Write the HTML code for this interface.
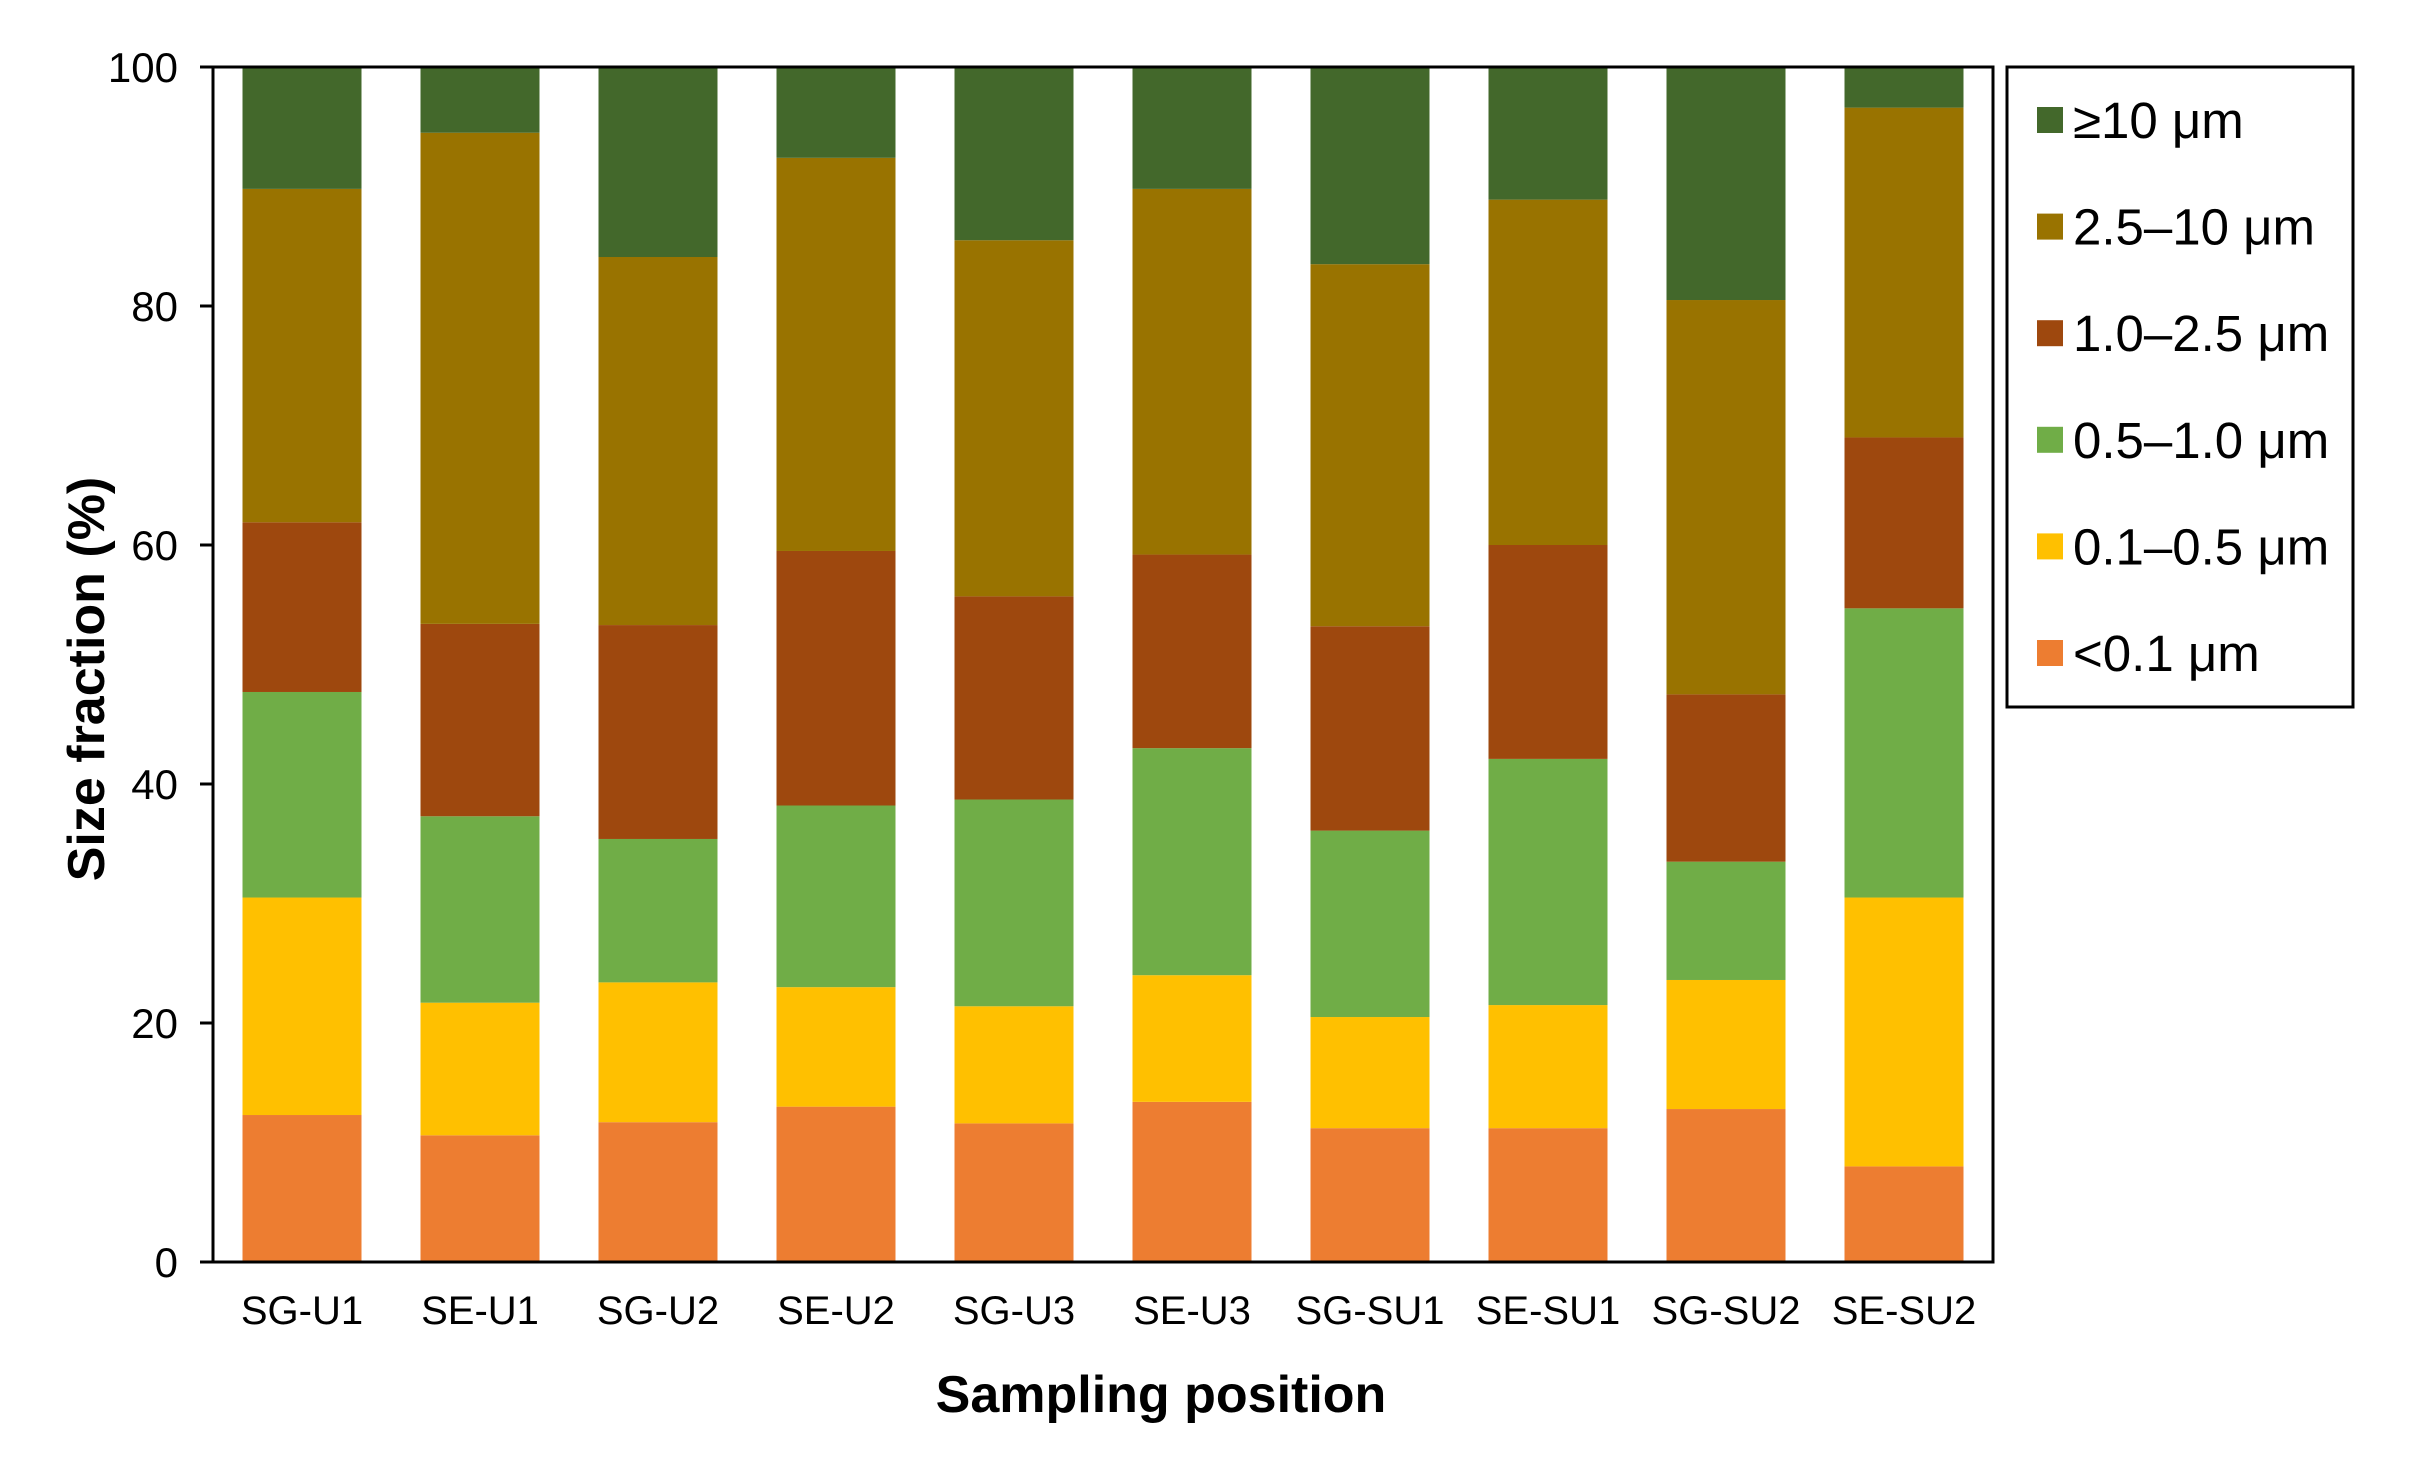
<!DOCTYPE html>
<html><head><meta charset="utf-8"><style>
html,body{margin:0;padding:0;background:#fff;}
svg{display:block;font-family:"Liberation Sans",Arial,sans-serif;}
</style></head><body>
<svg id="chart" width="2417" height="1467" viewBox="0 0 2417 1467" xmlns="http://www.w3.org/2000/svg">
<g id="bars"></g>
<g id="axes"></g>
<g id="legend"></g>
<text x="1161" y="1412" text-anchor="middle" font-size="52" font-weight="bold">Sampling position</text>
<text transform="translate(104,679) rotate(-90)" text-anchor="middle" font-size="52" font-weight="bold">Size fraction (%)</text>
</svg>
<script>
const categories = ["SG-U1","SE-U1","SG-U2","SE-U2","SG-U3","SE-U3","SG-SU1","SE-SU1","SG-SU2","SE-SU2"];
const seriesNames = ["<0.1 μm","0.1–0.5 μm","0.5–1.0 μm","1.0–2.5 μm","2.5–10 μm","≥10 μm"];
const seriesColors = ["#ED7D31","#FFC000","#70AD47","#9E480E","#997300","#43682B"];
const sLt01 = [12.3,10.6,11.7,13.0,11.6,13.4,11.2,11.2,12.8,8.0];
const s01to05 = [18.2,11.1,11.7,10.0,9.8,10.6,9.3,10.3,10.8,22.5];
const s05to10 = [17.2,15.6,12.0,15.2,17.3,19.0,15.6,20.6,9.9,24.2];
const s10to25 = [14.2,16.1,17.9,21.3,17.0,16.2,17.1,17.9,14.0,14.3];
const s25to10 = [27.9,41.1,30.8,32.9,29.8,30.6,30.3,28.9,33.0,27.6];
const sGe10 = [10.2,5.5,15.9,7.6,14.5,10.2,16.5,11.1,19.5,3.4];
const yTicks = [0,20,40,60,80,100];

const series = [sLt01,s01to05,s05to10,s10to25,s25to10,sGe10];
const NS = "http://www.w3.org/2000/svg";
const L = 213, R = 1993, T = 67, B = 1262;
const band = (R - L) / categories.length, barW = 119;
const y = v => B - (v / 100) * (B - T);
const xc = i => L + band * (i + 0.5);
function mk(tag, attrs, parent) {
  const e = document.createElementNS(NS, tag);
  for (const k in attrs) e.setAttribute(k, attrs[k]);
  parent.appendChild(e);
  return e;
}
const gb = document.getElementById('bars');
categories.forEach((c, i) => {
  let cum = 0;
  series.forEach((s, j) => {
    const v = s[i];
    const r = mk('rect', {x: xc(i) - barW / 2, y: y(cum + v), width: barW, height: y(cum) - y(cum + v), fill: seriesColors[j]}, gb);
    
    
    cum += v;
  });
});
const ga = document.getElementById('axes');
const frame = mk('rect', {x: L, y: T, width: R - L, height: B - T, fill: 'none', stroke: '#000', 'stroke-width': 3}, ga);


yTicks.forEach(t => {
  const tk = mk('line', {x1: L - 13, x2: L, y1: y(t), y2: y(t), stroke: '#000', 'stroke-width': 3}, ga);
  
  
  const tx = mk('text', {x: 178, y: y(t) + 15, 'text-anchor': 'end', 'font-size': 42}, ga);
  tx.textContent = t;
  
  
});
categories.forEach((c, i) => {
  const tx = mk('text', {x: xc(i), y: 1324, 'text-anchor': 'middle', 'font-size': 40}, ga);
  tx.textContent = c;
  
  
});
const gl = document.getElementById('legend');
const box = mk('rect', {x: 2007, y: 67, width: 346, height: 640, fill: '#fff', stroke: '#000', 'stroke-width': 3}, gl);


for (let k = 0; k < 6; k++) {
  const j = 5 - k;
  const cy = 120 + k * 106.6;
  const sw = mk('rect', {x: 2037, y: cy - 13, width: 26, height: 26, fill: seriesColors[j]}, gl);
  
  
  const tx = mk('text', {x: 2073, y: cy + 18, 'font-size': 51}, gl);
  tx.textContent = seriesNames[j];
  
  
}
</script>
</body></html>
